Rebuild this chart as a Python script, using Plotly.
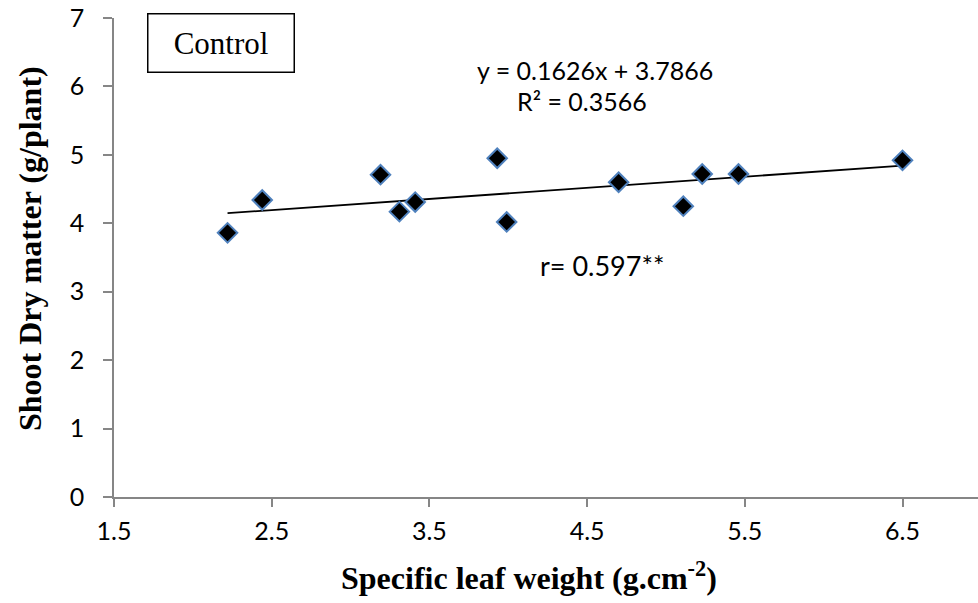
import plotly.graph_objects as go

# Specific leaf weight (g.cm-2) and shoot dry matter (g/plant), control treatment
slw = [2.22, 2.44, 3.19, 3.31, 3.41, 3.93, 3.99, 4.70, 5.11, 5.23, 5.46, 6.50]
shoot_dm = [3.86, 4.34, 4.71, 4.17, 4.31, 4.95, 4.02, 4.60, 4.25, 4.72, 4.72, 4.92]

# Linear trendline coefficients and statistics
slope = 0.1626
intercept = 3.7866
r_squared = 0.3566
r_value = "0.597**"

x_ticks = [1.5, 2.5, 3.5, 4.5, 5.5, 6.5]
y_ticks = [0, 1, 2, 3, 4, 5, 6, 7]

W, H = 978, 603
L, R, T, B = 114, 0, 18, 106
plot_w = W - L - R
plot_h = H - T - B


def px_x(px):
    return (px - L) / plot_w


def px_y(py):
    return (H - B - py) / plot_h


fig = go.Figure()

x_lo, x_hi = min(slw), max(slw)
fig.add_trace(go.Scatter(
    x=[x_lo, x_hi],
    y=[slope * x_lo + intercept, slope * x_hi + intercept],
    mode="lines",
    line=dict(color="black", width=1.8),
    hoverinfo="skip",
    showlegend=False,
))

fig.add_trace(go.Scatter(
    x=slw, y=shoot_dm,
    mode="markers",
    marker=dict(symbol="diamond", size=15, color="black",
                line=dict(color="#4F81BD", width=2)),
    showlegend=False,
))

tick_font = dict(family="Lato, Carlito, sans-serif", size=25, color="black")
axis_gray = "#868686"

fig.update_xaxes(
    range=[1.5, 1.5 + plot_w / 157.7],
    tickvals=x_ticks, ticktext=[f"{v:.1f}" for v in x_ticks],
    showline=True, linecolor=axis_gray, linewidth=1.5,
    ticks="outside", ticklen=8, tickcolor=axis_gray, tickwidth=1.5,
    showgrid=False, zeroline=False,
    tickfont=tick_font, ticklabelstandoff=3,
)
fig.update_yaxes(
    range=[0, 7],
    tickvals=y_ticks,
    showline=True, linecolor=axis_gray, linewidth=1.5,
    ticks="outside", ticklen=9, tickcolor=axis_gray, tickwidth=1.5,
    showgrid=False, zeroline=False,
    tickfont=tick_font, ticklabelstandoff=14,
)

calibri = dict(family="Lato, Carlito, sans-serif", size=25, color="black")
times_bold = dict(family="Liberation Serif, Times New Roman, serif", size=32, color="black")


def label(px, py, text, font, **extra):
    return dict(x=px_x(px), y=px_y(py), xref="paper", yref="paper",
                xanchor="center", yanchor="middle",
                text=text, showarrow=False, font=font, **extra)


annotations = [
    label(595, 70, f"y = {slope}x + {intercept}", calibri),
    label(582, 101, f"R² = {r_squared}", calibri),
    label(602, 265, f"r= {r_value}", dict(calibri, size=27)),
    label(221, 43, "Control",
          dict(family="Liberation Serif, Times New Roman, serif", size=31, color="black"),
          bordercolor="black", borderwidth=1.5, borderpad=0,
          width=145, height=57, bgcolor="white"),
    label(529, 576, "<b>Specific leaf weight (g.cm<sup>-2</sup>)</b>", times_bold),
    label(30, 249, "<b>Shoot Dry matter (g/plant)</b>", times_bold, textangle=-90),
]

fig.update_layout(
    width=W, height=H,
    margin=dict(l=L, r=R, t=T, b=B),
    plot_bgcolor="white", paper_bgcolor="white",
    annotations=annotations,
)

fig.write_html("out.html")
